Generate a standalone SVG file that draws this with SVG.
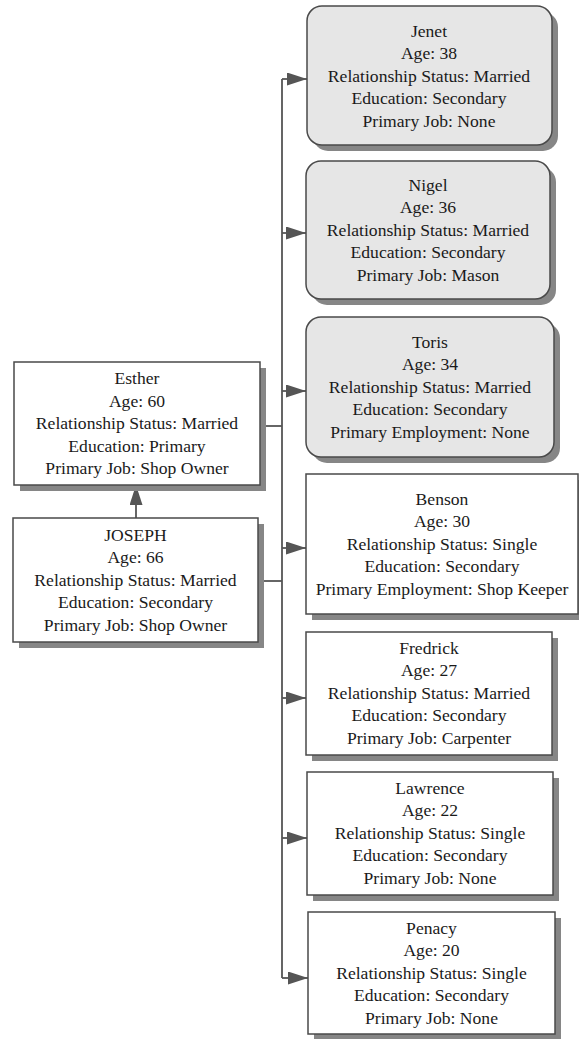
<svg xmlns="http://www.w3.org/2000/svg" width="579" height="1039" viewBox="0 0 579 1039">
  <defs>
    <style>
      .shadow { fill: #868686; stroke: none; }
      .box { fill: #ffffff; stroke: #4a4a4a; stroke-width: 1.5; }
      .box.grey { fill: #e6e6e6; }
      .label { font-family: 'Liberation Serif', 'DejaVu Serif', serif; font-size: 17.6px; fill: #1a1a1a; text-anchor: middle; }
      .wire { fill: none; stroke: #555555; stroke-width: 1.8; }
    </style>
    <marker id="head" viewBox="0 0 20 13" refX="20" refY="6.5" markerWidth="20" markerHeight="13" markerUnits="userSpaceOnUse" orient="auto">
      <path d="M0,0 L20,6.5 L0,13 Z" fill="#555555"/>
    </marker>
  </defs>

  <!-- connectors -->
  <g id="connectors">
    <path class="wire" d="M282,79 V978"/>
    <path class="wire" d="M260,426 H282"/>
    <path class="wire" d="M258,581 H282" stroke-width="2.6"/>
    <path class="wire" d="M136,518 V485" marker-end="url(#head)"/>
    <path class="wire" d="M282,79 H307" marker-end="url(#head)"/>
    <path class="wire" d="M282,233 H306" marker-end="url(#head)"/>
    <path class="wire" d="M282,391 H306" marker-end="url(#head)"/>
    <path class="wire" d="M282,548 H306" marker-end="url(#head)"/>
    <path class="wire" d="M282,698 H306" marker-end="url(#head)"/>
    <path class="wire" d="M282,838 H307" marker-end="url(#head)"/>
    <path class="wire" d="M282,978 H308" marker-end="url(#head)"/>
  </g>

  <g id="esther">
    <rect class="shadow" x="20" y="368" width="246" height="123"/>
    <rect class="box" x="14" y="362" width="246" height="123"/>
    <text class="label" x="137" y="384">Esther</text>
    <text class="label" x="137" y="407">Age: 60</text>
    <text class="label" x="137" y="429">Relationship Status: Married</text>
    <text class="label" x="137" y="452">Education: Primary</text>
    <text class="label" x="137" y="474">Primary Job: Shop Owner</text>
  </g>

  <g id="joseph">
    <rect class="shadow" x="19" y="524" width="245" height="124"/>
    <rect class="box" x="13" y="518" width="245" height="124"/>
    <text class="label" x="135.5" y="541">JOSEPH</text>
    <text class="label" x="135.5" y="563">Age: 66</text>
    <text class="label" x="135.5" y="586">Relationship Status: Married</text>
    <text class="label" x="135.5" y="608">Education: Secondary</text>
    <text class="label" x="135.5" y="631">Primary Job: Shop Owner</text>
  </g>

  <g id="jenet">
    <rect class="shadow" x="313" y="12" width="245" height="139" rx="15"/>
    <rect class="box grey" x="307" y="6" width="245" height="139" rx="15"/>
    <text class="label" x="429" y="37">Jenet</text>
    <text class="label" x="429" y="59">Age: 38</text>
    <text class="label" x="429" y="82">Relationship Status: Married</text>
    <text class="label" x="429" y="104">Education: Secondary</text>
    <text class="label" x="429" y="127">Primary Job: None</text>
  </g>

  <g id="nigel">
    <rect class="shadow" x="312" y="167" width="244" height="138" rx="15"/>
    <rect class="box grey" x="306" y="161" width="244" height="138" rx="15"/>
    <text class="label" x="428" y="191">Nigel</text>
    <text class="label" x="428" y="213">Age: 36</text>
    <text class="label" x="428" y="236">Relationship Status: Married</text>
    <text class="label" x="428" y="258">Education: Secondary</text>
    <text class="label" x="428" y="281">Primary Job: Mason</text>
  </g>

  <g id="toris">
    <rect class="shadow" x="312" y="323" width="248" height="140" rx="15"/>
    <rect class="box grey" x="306" y="317" width="248" height="140" rx="15"/>
    <text class="label" x="430" y="348">Toris</text>
    <text class="label" x="430" y="370">Age: 34</text>
    <text class="label" x="430" y="393">Relationship Status: Married</text>
    <text class="label" x="430" y="415">Education: Secondary</text>
    <text class="label" x="430" y="438">Primary Employment: None</text>
  </g>

  <g id="benson">
    <rect class="shadow" x="312" y="480" width="272" height="140"/>
    <rect class="box" x="306" y="474" width="272" height="140"/>
    <text class="label" x="442" y="505">Benson</text>
    <text class="label" x="442" y="527">Age: 30</text>
    <text class="label" x="442" y="550">Relationship Status: Single</text>
    <text class="label" x="442" y="572">Education: Secondary</text>
    <text class="label" x="442" y="595">Primary Employment: Shop Keeper</text>
  </g>

  <g id="fredrick">
    <rect class="shadow" x="312" y="638" width="246" height="123"/>
    <rect class="box" x="306" y="632" width="246" height="123"/>
    <text class="label" x="429" y="654">Fredrick</text>
    <text class="label" x="429" y="676">Age: 27</text>
    <text class="label" x="429" y="699">Relationship Status: Married</text>
    <text class="label" x="429" y="721">Education: Secondary</text>
    <text class="label" x="429" y="744">Primary Job: Carpenter</text>
  </g>

  <g id="lawrence">
    <rect class="shadow" x="313" y="778" width="246" height="123"/>
    <rect class="box" x="307" y="772" width="246" height="123"/>
    <text class="label" x="430" y="794">Lawrence</text>
    <text class="label" x="430" y="816">Age: 22</text>
    <text class="label" x="430" y="839">Relationship Status: Single</text>
    <text class="label" x="430" y="861">Education: Secondary</text>
    <text class="label" x="430" y="884">Primary Job: None</text>
  </g>

  <g id="penacy">
    <rect class="shadow" x="314" y="918" width="247" height="122"/>
    <rect class="box" x="308" y="912" width="247" height="122"/>
    <text class="label" x="431.5" y="934">Penacy</text>
    <text class="label" x="431.5" y="956">Age: 20</text>
    <text class="label" x="431.5" y="979">Relationship Status: Single</text>
    <text class="label" x="431.5" y="1001">Education: Secondary</text>
    <text class="label" x="431.5" y="1024">Primary Job: None</text>
  </g>
</svg>
